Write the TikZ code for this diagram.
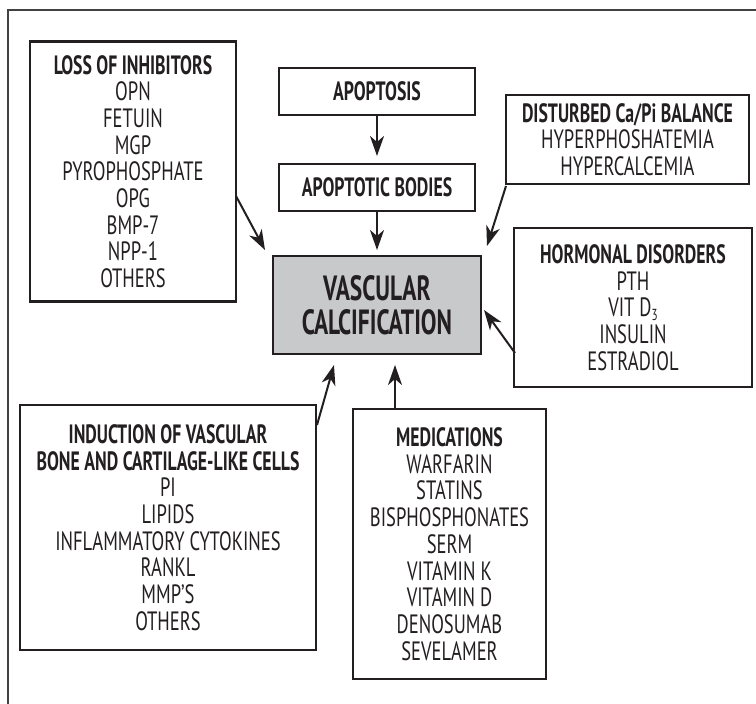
\documentclass[tikz,border=0pt]{standalone}
\usepackage{fontspec}
\setmainfont{PT Sans}[FakeStretch=0.70, BoldFeatures={FakeStretch=0.67}]
\usetikzlibrary{arrows.meta}
\definecolor{vcgrey}{HTML}{C8C9CB}
\definecolor{ink}{HTML}{231F20}
\newcommand{\sub}[1]{\raisebox{-4pt}{\fontsize{16}{16}\selectfont #1}}
\tikzset{
  box/.style={draw=ink, line width=2.2pt, inner sep=0pt, align=center,
    text=ink, font=\fontsize{26.5}{26.7}\selectfont},
  arr/.style={draw=ink, line width=2pt, -{Stealth[length=20pt,width=14pt,inset=6pt]}},
}
\begin{document}
\begin{tikzpicture}[x=1pt,y=-1pt]
\useasboundingbox (0,0) rectangle (756,704);
\draw[draw=ink!85, line width=1.1pt] (8,704) -- (8,10) -- (756,10);

\node[box, minimum width=206pt, minimum height=260pt] (loss) at (133,171.5)
  {\textbf{LOSS OF INHIBITORS}\\OPN\\FETUIN\\MGP\\PYROPHOSPHATE\\OPG\\BMP-7\\NPP-1\\OTHERS};
\node[box, minimum width=196pt, minimum height=47pt] (apo) at (377,91.5)
  {\textbf{APOPTOSIS}};
\node[box, minimum width=196pt, minimum height=47pt] (body) at (377,187.5)
  {\textbf{APOPTOTIC BODIES}};
\node[box, fill=vcgrey, minimum width=208pt, minimum height=98pt,
  font=\fontsize{35}{34}\selectfont\bfseries] (vc) at (377,305)
  {VASCULAR\\CALCIFICATION};
\node[box, minimum width=243pt, minimum height=89pt] (ca) at (627.5,139.5)
  {\textbf{DISTURBED Ca/Pi BALANCE}\\HYPERPHOSHATEMIA\\HYPERCALCEMIA};
\node[box, minimum width=238pt, minimum height=159pt] (horm) at (633,307.5)
  {\textbf{HORMONAL DISORDERS}\\PTH\\VIT D\sub{3}\\INSULIN\\ESTRADIOL};
\node[box, minimum width=296pt, minimum height=245pt] (ind) at (168,527.5)
  {\textbf{INDUCTION OF VASCULAR}\\\textbf{BONE AND CARTILAGE-LIKE CELLS}\\PI\\LIPIDS\\INFLAMMATORY CYTOKINES\\RANKL\\MMP’S\\OTHERS};
\node[box, minimum width=193pt, minimum height=270pt] (med) at (449.5,544)
  {\textbf{MEDICATIONS}\\WARFARIN\\STATINS\\BISPHOSPHONATES\\SERM\\VITAMIN K\\VITAMIN D\\DENOSUMAB\\SEVELAMER};

\coordinate (lossout) at (236,196);
\coordinate (losstip) at (265,250);
\coordinate (caout) at (506,186);
\coordinate (catip) at (487,246);
\coordinate (hormout) at (515,353);
\coordinate (hormtip) at (484,310);
\coordinate (indout) at (317,425);
\coordinate (indtip) at (334,365);
\coordinate (medout) at (395,409);
\coordinate (medtip) at (395,365);
\coordinate (apotip) at (377,156);
\coordinate (bodytip) at (377,250);

\draw[arr] (apo.south) -- (apotip);
\draw[arr] (body.south) -- (bodytip);
\draw[arr] (lossout) -- (losstip);
\draw[arr] (caout) -- (catip);
\draw[arr] (hormout) -- (hormtip);
\draw[arr] (indout) -- (indtip);
\draw[arr] (medout) -- (medtip);
\end{tikzpicture}
\end{document}
